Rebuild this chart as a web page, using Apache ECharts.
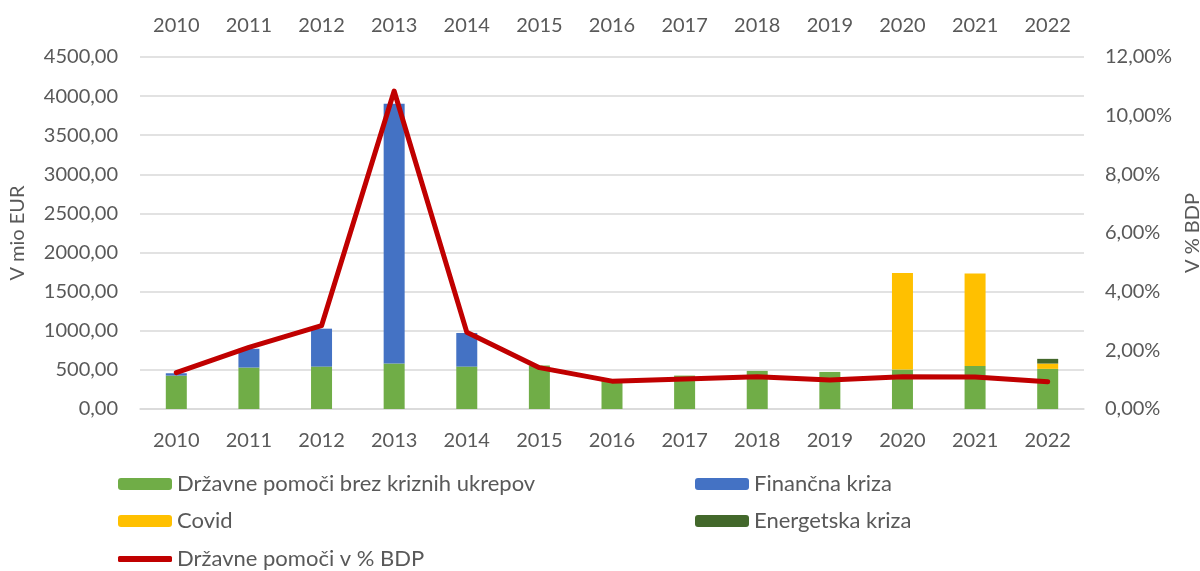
<!DOCTYPE html>
<html>
<head>
<meta charset="utf-8">
<script src="https://cdn.jsdelivr.net/npm/echarts@6/dist/echarts.min.js"></script>
<style>
  html, body { margin: 0; padding: 0; background: #fff; }
  #chart { width: 1200px; height: 571px; }
</style>
</head>
<body>
<div id="chart"></div>
<script>
// data
const years = ['2010', '2011', '2012', '2013', '2014', '2015', '2016', '2017', '2018', '2019', '2020', '2021', '2022']
const brezKriznih = [427, 530, 542, 581, 542, 555, 360, 427, 487, 474, 504, 551, 513]
const financna = [30, 240, 485, 3320, 430, 0, 0, 0, 0, 0, 0, 0, 0]
const covid = [0, 0, 0, 0, 0, 0, 0, 0, 0, 0, 1236, 1180, 68]
const energetska = [0, 0, 0, 0, 0, 0, 0, 0, 0, 0, 0, 0, 60]
const deltBdp = [1.24, 2.1, 2.84, 10.84, 2.62, 1.41, 0.95, 1.02, 1.1, 0.99, 1.1, 1.09, 0.93]

const txt = '#595959'
const font = 'Lato'
const gridCol = '#d9d9d9'

const chart = echarts.init(document.getElementById('chart'))

const commaNum = v => v.toFixed(2).replace('.', ',')

function legendAt(item, left, top, h) {
  return {
    data: [item],
    left: left,
    top: top,
    padding: 0,
    itemWidth: 54,
    itemHeight: h || 12,
    itemGap: 0,
    textStyle: { color: txt, fontFamily: font, fontSize: 22, padding: [0, 0, 0, 0] }
  }
}

const option = {
  animation: false,
  textStyle: { fontFamily: font },
  grid: { left: 140, right: 116, top: 57, bottom: 162, outerBoundsMode: 'none' },
  legend: [
    legendAt('Državne pomoči brez kriznih ukrepov', 118, 473),
    legendAt('Finančna kriza', 695, 473),
    legendAt('Covid', 118, 510),
    legendAt('Energetska kriza', 695, 510),
    legendAt({ name: 'Državne pomoči v % BDP', icon: 'roundRect' }, 118, 548, 6)
  ],
  xAxis: [
    {
      type: 'category',
      data: years,
      position: 'bottom',
      axisLine: { lineStyle: { color: gridCol, width: 1.5 } },
      axisTick: { show: false },
      axisLabel: { color: txt, fontSize: 20, fontFamily: font, margin: 22 }
    },
    {
      type: 'category',
      data: years,
      position: 'top',
      axisLine: { show: false },
      axisTick: { show: false },
      axisLabel: { color: txt, fontSize: 20, fontFamily: font, margin: 21 }
    }
  ],
  yAxis: [
    {
      type: 'value',
      min: 0,
      max: 4500,
      interval: 500,
      name: 'V mio EUR',
      nameLocation: 'middle',
      nameRotate: 90,
      nameGap: 112,
      nameTextStyle: { color: txt, fontSize: 20, fontFamily: font },
      axisLabel: { color: txt, fontSize: 20, fontFamily: font, margin: 22, formatter: v => commaNum(v) },
      splitLine: { lineStyle: { color: gridCol, width: 1.5 } }
    },
    {
      type: 'value',
      min: 0,
      max: 12,
      interval: 2,
      name: 'V % BDP',
      nameLocation: 'middle',
      nameRotate: 90,
      nameGap: 92,
      nameTextStyle: { color: txt, fontSize: 20, fontFamily: font },
      axisLabel: { color: txt, fontSize: 20, fontFamily: font, margin: 21, formatter: v => commaNum(v) + '%' },
      splitLine: { show: false }
    }
  ],
  series: [
    {
      name: 'Državne pomoči brez kriznih ukrepov',
      type: 'bar',
      stack: 'pomoci',
      barWidth: 21,
      data: brezKriznih,
      itemStyle: { color: '#70ad47' }
    },
    {
      name: 'Finančna kriza',
      type: 'bar',
      stack: 'pomoci',
      data: financna,
      itemStyle: { color: '#4472c4' }
    },
    {
      name: 'Covid',
      type: 'bar',
      stack: 'pomoci',
      data: covid,
      itemStyle: { color: '#ffc000' }
    },
    {
      name: 'Energetska kriza',
      type: 'bar',
      stack: 'pomoci',
      data: energetska,
      itemStyle: { color: '#43682b' }
    },
    {
      name: 'Državne pomoči v % BDP',
      type: 'line',
      yAxisIndex: 1,
      data: deltBdp,
      showSymbol: false,
      symbol: 'none',
      lineStyle: { color: '#c00000', width: 5, cap: 'round', join: 'round' },
      itemStyle: { color: '#c00000' }
    }
  ]
}

chart.setOption(option)
</script>
</body>
</html>
